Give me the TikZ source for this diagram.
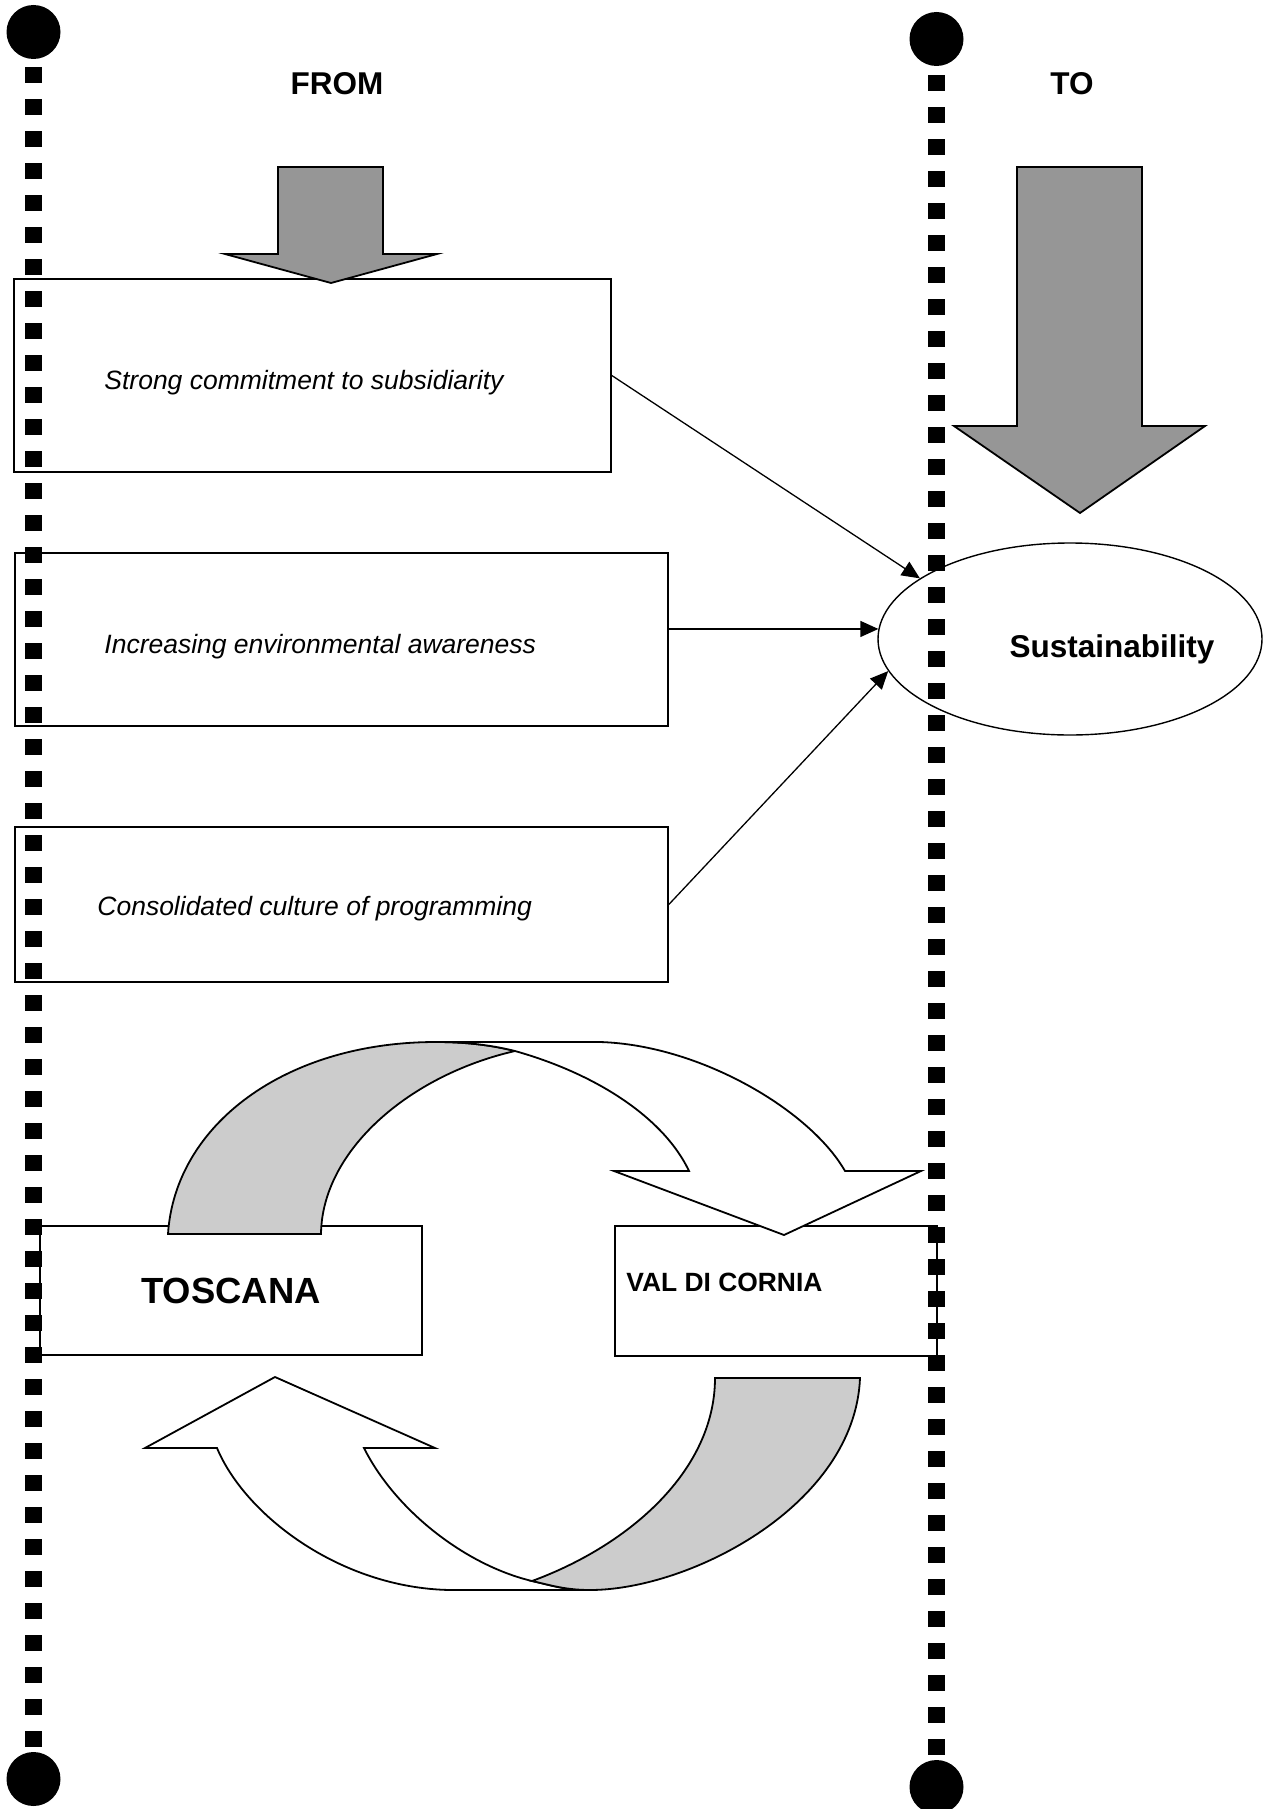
\documentclass[tikz,border=0pt]{standalone}
\usepackage{fontspec}
\setmainfont{Liberation Sans}
\usetikzlibrary{arrows.meta,shapes.geometric}

\definecolor{arrowgrey}{RGB}{150,150,150}
\definecolor{bandgrey}{RGB}{204,204,204}

\tikzset{
    pole/.style={line width=8.5pt, dash pattern=on 8pt off 8pt},
    poledot/.style={circle, fill=black, inner sep=0pt, minimum size=27pt},
    factbox/.style={draw, line width=0.8pt, rectangle, inner sep=0pt},
    fact/.style={font=\fontsize{13.25pt}{15pt}\selectfont\itshape, anchor=base west, inner sep=0pt},
    headline/.style={font=\fontsize{15.75pt}{18pt}\selectfont\bfseries, anchor=base, inner sep=0pt},
    goal/.style={draw, ellipse, line width=0.7pt, inner sep=0pt},
    conn/.style={line width=0.65pt, -{Triangle[length=9pt,width=8pt]}},
    bigarrow/.style={draw, line width=0.9pt, fill=arrowgrey},
    band/.style={draw, line width=0.9pt, fill=bandgrey},
    ribbon/.style={draw, line width=0.9pt, fill=white},
}

\begin{document}
\begin{tikzpicture}[x=0.5pt, y=-0.5pt]
    \useasboundingbox (0,0) rectangle (1273,1809);

    \node[headline] (from) at (337,95) {FROM};
    \node[headline] (to) at (1072,95) {TO};

    \node[factbox, minimum width=298.5pt, minimum height=96.5pt] (subs) at (312.5,375.5) {};
    \node[factbox, minimum width=326.5pt, minimum height=86.5pt] (aware) at (341.5,639.5) {};
    \node[factbox, minimum width=326.5pt, minimum height=77.5pt] (prog) at (341.5,904.5) {};
    \node[fact] (subs-txt) at (104,389) {Strong commitment to subsidiarity};
    \node[fact] (aware-txt) at (104,653) {Increasing environmental awareness};
    \node[fact] (prog-txt) at (97,915) {Consolidated culture of programming};

    \draw[bigarrow] (278,167) -- (383,167) -- (383,254) -- (437,254) -- (331,283) -- (225,254) -- (278,254) -- cycle;
    \draw[bigarrow] (1017,167) -- (1142,167) -- (1142,426) -- (1205,426) -- (1080,513) -- (954,426) -- (1017,426) -- cycle;

    \node[goal, minimum width=192pt, minimum height=96pt] (sust) at (1070,639) {};
    \node[headline] (sust-txt) at (1112,657) {Sustainability};

    \draw[conn] (subs.east) -- (sust.158);
    \draw[conn] (aware.east |- sust.177) -- (sust.177);
    \draw[conn] (prog.east) -- (sust.190);

    \node[factbox, minimum width=191pt, minimum height=64.5pt,
          font=\fontsize{18.2pt}{21pt}\selectfont\bfseries] (toscana) at (231,1290.5) {TOSCANA};
    \node[factbox, minimum width=161pt, minimum height=65pt] (cornia) at (776,1291) {};
    \node[font=\fontsize{13.2pt}{15pt}\selectfont\bfseries, anchor=base west, inner sep=0pt]
        (cornia-txt) at (626,1291) {VAL DI CORNIA};

    \draw[band] (168,1234) .. controls (175,1125) and (285,1042) .. (436,1042)
        .. controls (470,1042) and (495,1046) .. (515,1051)
        .. controls (410,1075) and (322,1150) .. (321,1234) -- cycle;
    \draw[ribbon] (515,1051) .. controls (495,1046) and (470,1042) .. (436,1042) -- (600,1042)
        .. controls (700,1045) and (810,1110) .. (845,1171) -- (921,1171) -- (784,1235)
        -- (614,1171) -- (689,1171) .. controls (665,1120) and (600,1075) .. (515,1051) -- cycle;
    \draw[ribbon] (364,1448) -- (435,1448) -- (275,1377) -- (145,1448) -- (217,1448)
        .. controls (245,1515) and (340,1588) .. (450,1590) -- (585,1590)
        .. controls (565,1590) and (550,1585) .. (532,1581)
        .. controls (465,1565) and (395,1510) .. (364,1448) -- cycle;
    \draw[band] (532,1581) .. controls (550,1585) and (565,1590) .. (590,1590)
        .. controls (690,1590) and (855,1505) .. (860,1378) -- (715,1378)
        .. controls (715,1470) and (630,1545) .. (532,1581) -- cycle;

    \node[poledot] (ltop) at (33.5,32) {};
    \node[poledot] (lbot) at (33.5,1779) {};
    \node[poledot] (rtop) at (936.5,39) {};
    \node[poledot] (rbot) at (936.5,1787) {};
    \draw[pole, dash phase=12pt] (ltop) -- (lbot);
    \draw[pole, dash phase=11.5pt] (rtop) -- (rbot);
\end{tikzpicture}
\end{document}
